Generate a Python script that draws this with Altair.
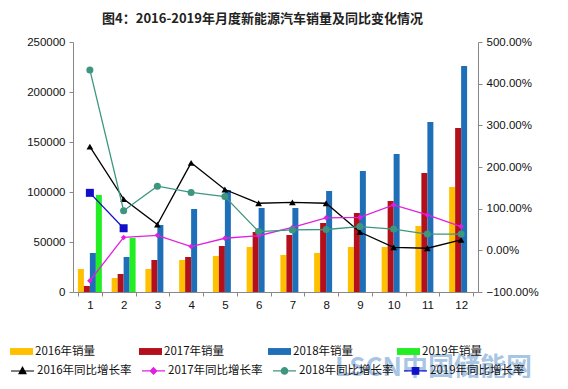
import altair as alt
import pandas as pd

months = [1, 2, 3, 4, 5, 6, 7, 8, 9, 10, 11, 12]

bar_series = ["2016年销量", "2017年销量", "2018年销量", "2019年销量"]
bar_colors = ["#ffc000", "#b3101b", "#1f6fb8", "#22ee22"]

sales2016 = [23000, 14000, 23000, 32000, 36000, 45000, 37000, 39000, 45000, 45000, 66000, 105000]
sales2017 = [6000, 18000, 32000, 35000, 46000, 60000, 57000, 69000, 79000, 91000, 119000, 164000]
sales2018 = [39000, 35000, 67000, 83000, 102000, 84000, 84000, 101000, 121000, 138000, 170000, 226000]
sales2019 = [97000, 54000]

line_series = ["2016年同比增长率", "2017年同比增长率", "2018年同比增长率", "2019年同比增长率"]
line_colors = ["#000000", "#e020e0", "#3d9680", "#1010c8"]
line_shapes = ["triangle-up", "diamond", "circle", "square"]
marker_sizes = [45, 30, 50, 64]

growth2016 = [2.49, 1.23, 0.62, 2.10, 1.46, 1.13, 1.15, 1.13, 0.44, 0.07, 0.05, 0.25]
growth2017 = [-0.73, 0.31, 0.36, 0.09, 0.29, 0.35, 0.55, 0.78, 0.79, 1.09, 0.85, 0.57]
growth2018 = [4.33, 0.95, 1.54, 1.39, 1.29, 0.45, 0.49, 0.50, 0.57, 0.51, 0.39, 0.39]
growth2019 = [1.38, 0.53]

left_ticks = [0, 50000, 100000, 150000, 200000, 250000]
right_ticks = [-1, 0, 1, 2, 3, 4, 5]

title_text = "图4：2016-2019年月度新能源汽车销量及同比变化情况"
watermark = ["LSCN中国储能网"]

# legend symbol paths (unit box -1..1)
rect_path = "M-1,-0.3H1V0.3H-1Z"
legend_paths = [
    "M-1,0H1M0,-0.32L0.3,0.22H-0.3Z",
    "M-1,0H1M0,-0.28L0.28,0L0,0.28L-0.28,0Z",
    "M-1,0H1M-0.28,0A0.28,0.28 0 1,0 0.28,0A0.28,0.28 0 1,0 -0.28,0Z",
    "M-1,0H1M-0.28,-0.28H0.28V0.28H-0.28Z",
]

rows = []
for s, vals in zip(bar_series, [sales2016, sales2017, sales2018, sales2019]):
    for m, v in zip(months, vals):
        rows.append({"月份": m, "系列": s, "销量": v})
df_sales = pd.DataFrame(rows)

rows = []
for s, vals in zip(line_series, [growth2016, growth2017, growth2018, growth2019]):
    for m, v in zip(months, vals):
        rows.append({"月份": m, "系列": s, "增长率": v})
df_growth = pd.DataFrame(rows)

num_font = "Liberation Sans"
cjk_font = "Noto Sans CJK SC"

x_axis = alt.Axis(title=None, labelAngle=0, tickBand="extent", domainColor="#888888",
                  tickColor="#888888", tickSize=4, labelPadding=3, labelFont=num_font,
                  labelFontSize=11.5, labelColor="#111111")
x_scale = alt.Scale(type="band", paddingInner=0.29, paddingOuter=0.145)

y_left = alt.Y("销量:Q", scale=alt.Scale(domain=[0, 250000], nice=False),
               axis=alt.Axis(title=None, orient="left", values=left_ticks, format="d",
                             grid=False, domainColor="#888888", tickColor="#888888",
                             tickSize=4, labelPadding=4, labelFont=num_font,
                             labelFontSize=11.5, labelColor="#111111"))

y_right = alt.Y("增长率:Q", scale=alt.Scale(domain=[-1, 5], nice=False),
                axis=alt.Axis(title=None, orient="right", values=right_ticks, format=".2%",
                              grid=False, domainColor="#888888", tickColor="#888888",
                              tickSize=4, labelPadding=4, labelFont=num_font,
                              labelFontSize=11.5, labelColor="#111111"))

bars = alt.Chart(df_sales).mark_bar().encode(
    x=alt.X("月份:O", scale=x_scale, axis=x_axis),
    xOffset=alt.XOffset("系列:N", scale=alt.Scale(domain=bar_series, paddingInner=0, paddingOuter=0)),
    y=y_left,
    color=alt.Color("系列:N", scale=alt.Scale(domain=bar_series, range=bar_colors),
                    legend=alt.Legend(orient="none", legendX=-63, legendY=298, direction="horizontal",
                                      columns=4, title=None, symbolType=rect_path, symbolSize=529,
                                      symbolStrokeWidth=0, labelOffset=2, columnPadding=43,
                                      labelFont=cjk_font, labelFontSize=11.5, labelColor="#111111",
                                      padding=0)),
)

x_line = alt.X("月份:O", scale=x_scale, axis=x_axis, bandPosition=0.5)

line_layers = []
for s, c, sh, sz in zip(line_series, line_colors, line_shapes, marker_sizes):
    base = alt.Chart(df_growth).transform_filter(alt.datum["系列"] == s)
    line_layers.append(base.mark_line(color=c, strokeWidth=1.3).encode(x=x_line, y=y_right))
    line_layers.append(base.mark_point(shape=sh, filled=True, size=sz, color=c, opacity=1)
                       .encode(x=x_line, y=y_right))

leg = alt.Legend(orient="none", legendX=-63, legendY=316, direction="horizontal", columns=4,
                 title=None, symbolSize=529, symbolStrokeWidth=1.2, labelOffset=2,
                 columnPadding=7, labelFont=cjk_font, labelFontSize=11.5,
                 labelColor="#111111", padding=0)
legend_layer = alt.Chart(df_growth).transform_filter("false").mark_point(
    filled=True, opacity=1, strokeWidth=1.2).encode(
    fill=alt.Fill("系列:N", scale=alt.Scale(domain=line_series, range=line_colors), legend=leg),
    stroke=alt.Stroke("系列:N", scale=alt.Scale(domain=line_series, range=line_colors), legend=leg),
    shape=alt.Shape("系列:N", scale=alt.Scale(domain=line_series, range=legend_paths), legend=leg),
)

wm = alt.Chart(pd.DataFrame({"t": watermark})).mark_text(
    align="left", baseline="middle", fontSize=26, fontWeight="bold", font=cjk_font,
    color="#3f7fc4", opacity=0.45).encode(x=alt.value(262), y=alt.value(326), text="t:N")

lines = alt.layer(*line_layers, legend_layer)

chart = alt.layer(bars, lines, wm).resolve_scale(y="independent").properties(
    width=405, height=250,
    autosize=alt.AutoSizeParams(type="none"),
    padding={"left": 65, "top": 34, "right": 80, "bottom": 86},
    title=alt.TitleParams(title_text, font=cjk_font, fontSize=13, fontWeight="bold",
                          anchor="middle", frame="group", dx=-13, offset=10, color="#222222"),
    background="white",
).configure_view(stroke=None)

chart.save("out.html", embed_options={"renderer": "svg", "actions": False})
